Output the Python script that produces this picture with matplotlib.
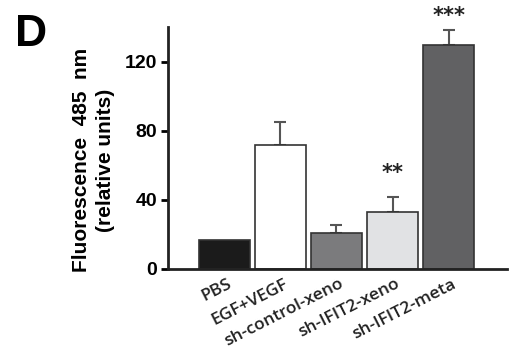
import numpy as np
import matplotlib.pyplot as plt

groups = ["PBS", "EGF+VEGF", "sh-control-xeno", "sh-IFIT2-xeno", "sh-IFIT2-meta"]
means = [16.8, 72.0, 20.8, 33.0, 129.3]
errors = [0.0, 13.2, 4.7, 8.6, 8.8]
stars = ["", "", "", "**", "***"]
colors = ["#1b1b1b", "#ffffff", "#7b7b7d", "#e1e2e4", "#616163"]

fig = plt.figure(figsize=(5.19, 3.59), dpi=100)
ax = fig.add_axes([0.3237, 0.2507, 0.6532, 0.6741])

x = np.arange(len(groups))
ax.bar(x, means, width=0.91, color=colors, edgecolor="#333333", linewidth=1.2, zorder=2)
ax.errorbar(x[1:], means[1:], yerr=[np.zeros(len(errors) - 1), errors[1:]], fmt="none",
            ecolor="#555555", elinewidth=1.5, capsize=4, capthick=1.5, zorder=1)

star_gap = {"**": 14, "***": 8}
for xi, m, e, s in zip(x, means, errors, stars):
    if s:
        ax.text(xi, m + e + star_gap[s], s, ha="center", va="center", fontsize=15,
                fontweight="bold", family="DejaVu Sans", color="#222222", clip_on=False)

ax.set_xlim(-1.0, 5.04)
ax.set_ylim(0, 140)
ax.set_yticks([0, 40, 80, 120])
ax.set_yticklabels(["0", "40", "80", "120"], fontsize=14, fontweight="bold",
                   family="Liberation Sans")
ax.set_xticks(x + 0.05)
ax.set_xticklabels(groups, rotation=27, ha="right", rotation_mode="anchor",
                   fontsize=12.5, family="Open Sans", fontweight="semibold", color="#222222")
ax.tick_params(axis="x", length=0, pad=5)
ax.tick_params(axis="y", length=5, width=2, direction="out", pad=3)

for side in ["top", "right"]:
    ax.spines[side].set_visible(False)
for side in ["left", "bottom"]:
    ax.spines[side].set_linewidth(2)
    ax.spines[side].set_color("#222222")

ax.set_ylabel("Fluorescence  485  nm\n(relative units)", fontsize=15, fontweight="bold",
              family="Liberation Sans", linespacing=1.35)
ax.yaxis.set_label_coords(-0.155, 0.45)

fig.text(0.029, 0.905, "D", fontsize=32, fontweight="bold", family="Liberation Sans",
         ha="left", va="center")

plt.savefig("out.png", dpi=100)
